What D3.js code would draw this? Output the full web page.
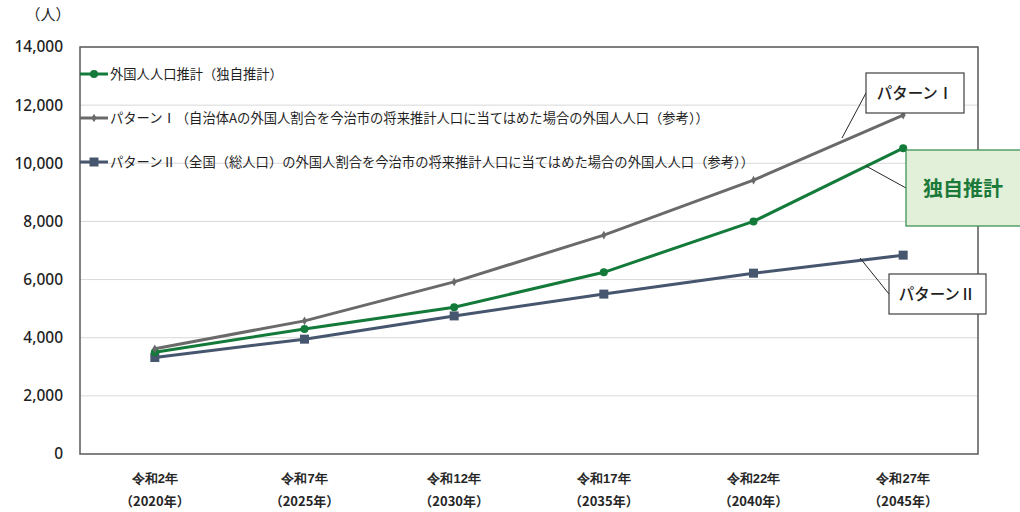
<!DOCTYPE html>
<html><head><meta charset="utf-8">
<script src="https://cdn.jsdelivr.net/npm/d3@7"></script>
<style>
body{margin:0;background:#fff;}
svg{display:block;font-family:"Noto Sans CJK JP","Noto Sans",sans-serif;}
</style></head>
<body><svg id="chart" width="1020" height="512"></svg>
<script>
const categories = ["令和2年","令和7年","令和12年","令和17年","令和22年","令和27年"];
const years = ["（2020年）","（2025年）","（2030年）","（2035年）","（2040年）","（2045年）"];
const ownEstimate = [3500, 4300, 5050, 6250, 8000, 10520];
const patternI = [3620, 4580, 5920, 7530, 9420, 11660];
const patternII = [3320, 3950, 4750, 5500, 6220, 6840];
const yTicks = [0,2000,4000,6000,8000,10000,12000,14000];
const seriesNames = [
  "外国人人口推計（独自推計）",
  "パターンⅠ（自治体Aの外国人割合を今治市の将来推計人口に当てはめた場合の外国人人口（参考））",
  "パターンⅡ（全国（総人口）の外国人割合を今治市の将来推計人口に当てはめた場合の外国人人口（参考））"
];
const colors = ["#137a3a","#6a6a6a","#46566e"];
const callouts = ["パターンⅠ","独自推計","パターンⅡ"];

const svg = d3.select("#chart");
const L=80, R=978, T=47, B=454;
const x = d3.scaleBand().domain(categories).range([L,R]).padding(0);
const cx = c => x(c)+x.bandwidth()/2;
const y = d3.scaleLinear().domain([0,14000]).range([B,T]);

// gridlines
svg.append("g").selectAll("line").data(yTicks.filter(d=>d>0)).join("line")
  .attr("x1",L).attr("x2",R).attr("y1",d=>y(d)).attr("y2",d=>y(d))
  .attr("stroke","#d9d9d9").attr("stroke-width",1);

// y axis labels
const yAxis = d3.axisLeft(y).tickValues(yTicks).tickFormat(d3.format(",")).tickSize(0).tickPadding(0);
const gy = svg.append("g").attr("transform",`translate(63,0)`).call(yAxis);
gy.select(".domain").remove();
gy.selectAll("text").attr("font-size","15.5px").attr("fill","#1f1f1f").attr("font-family","'Noto Sans',sans-serif").attr("font-weight","500");

svg.append("text").attr("x",48).attr("y",20).attr("text-anchor","middle")
  .attr("font-size","15px").attr("fill","#262626").text("（人）");

// x axis labels
const xAxis = d3.axisBottom(x).tickSize(0).tickPadding(0);
const gx = svg.append("g").attr("transform",`translate(0,${B})`).call(xAxis);
gx.select(".domain").remove();
gx.selectAll("text").attr("dy",0).attr("y",29).attr("font-size","13px").attr("font-weight","bold").attr("fill","#262626");
svg.append("g").selectAll("text").data(categories).join("text")
  .attr("x",d=>cx(d)).attr("y",B+52).attr("text-anchor","middle")
  .attr("font-size","13px").attr("font-weight","bold").attr("fill","#262626")
  .text((d,i)=>years[i]);

// plot frame
svg.append("rect").attr("x",L).attr("y",T).attr("width",R-L).attr("height",B-T)
  .attr("fill","none").attr("stroke","#595959").attr("stroke-width",1.5);

// lines
const data = [ownEstimate, patternI, patternII];
const line = d3.line().x((d,i)=>cx(categories[i])).y(d=>y(d));
const order = [2,0,1];
order.forEach(k=>{
  svg.append("path").datum(data[k]).attr("d",line).attr("fill","none")
    .attr("stroke",colors[k]).attr("stroke-width",3).attr("stroke-linejoin","round");
});
function marker(g,k,px,py){
  if(k===0) g.append("circle").attr("cx",px).attr("cy",py).attr("r",4).attr("fill",colors[0]);
  else if(k===1) g.append("path").attr("d",d3.symbol(d3.symbolDiamond,22)()).attr("transform",`translate(${px},${py})`).attr("fill",colors[1]);
  else g.append("rect").attr("x",px-4.5).attr("y",py-4.5).attr("width",9).attr("height",9).attr("fill",colors[2]);
}
const mg = svg.append("g");
order.forEach(k=>data[k].forEach((v,i)=>marker(mg,k,cx(categories[i]),y(v))));

// legend
const legY = [74,118,162];
const lg = svg.append("g");
seriesNames.forEach((n,k)=>{
  lg.append("line").attr("x1",L).attr("x2",L+28).attr("y1",legY[k]).attr("y2",legY[k])
    .attr("stroke",colors[k]).attr("stroke-width",3);
  marker(lg,k,L+14,legY[k]);
  lg.append("text").attr("x",L+30).attr("y",legY[k]).attr("dy","0.36em")
    .attr("font-size","13.3px").attr("fill","#1f1f1f").text(n);
});

// callouts
const cg = svg.append("g");
// Pattern I
cg.append("line").attr("x1",842).attr("y1",138).attr("x2",866).attr("y2",93).attr("stroke","#262626").attr("stroke-width",1);
cg.append("rect").attr("x",866).attr("y",73).attr("width",98).attr("height",40).attr("fill","#fff").attr("stroke","#404040").attr("stroke-width",1.2);
cg.append("text").attr("x",915).attr("y",93).attr("dy","0.36em").attr("text-anchor","middle").attr("font-size","15.5px").attr("font-weight","500").attr("fill","#1f1f1f").text(callouts[0]);
// own estimate
cg.append("line").attr("x1",866).attr("y1",166).attr("x2",906).attr("y2",188).attr("stroke","#262626").attr("stroke-width",1);
cg.append("rect").attr("x",906).attr("y",150).attr("width",118).attr("height",76).attr("fill","#e2f0d9").attr("stroke","#2e8b46").attr("stroke-width",1.2);
cg.append("text").attr("x",963).attr("y",189).attr("dy","0.36em").attr("text-anchor","middle").attr("font-size","20px").attr("font-weight","bold").attr("fill","#1b7a3a").text(callouts[1]);
// Pattern II
cg.append("line").attr("x1",860).attr("y1",258).attr("x2",889).attr("y2",294).attr("stroke","#262626").attr("stroke-width",1);
cg.append("rect").attr("x",889).attr("y",274).attr("width",97).attr("height",40).attr("fill","#fff").attr("stroke","#404040").attr("stroke-width",1.2);
cg.append("text").attr("x",937).attr("y",294).attr("dy","0.36em").attr("text-anchor","middle").attr("font-size","15.5px").attr("font-weight","500").attr("fill","#1f1f1f").text(callouts[2]);
</script></body></html>
